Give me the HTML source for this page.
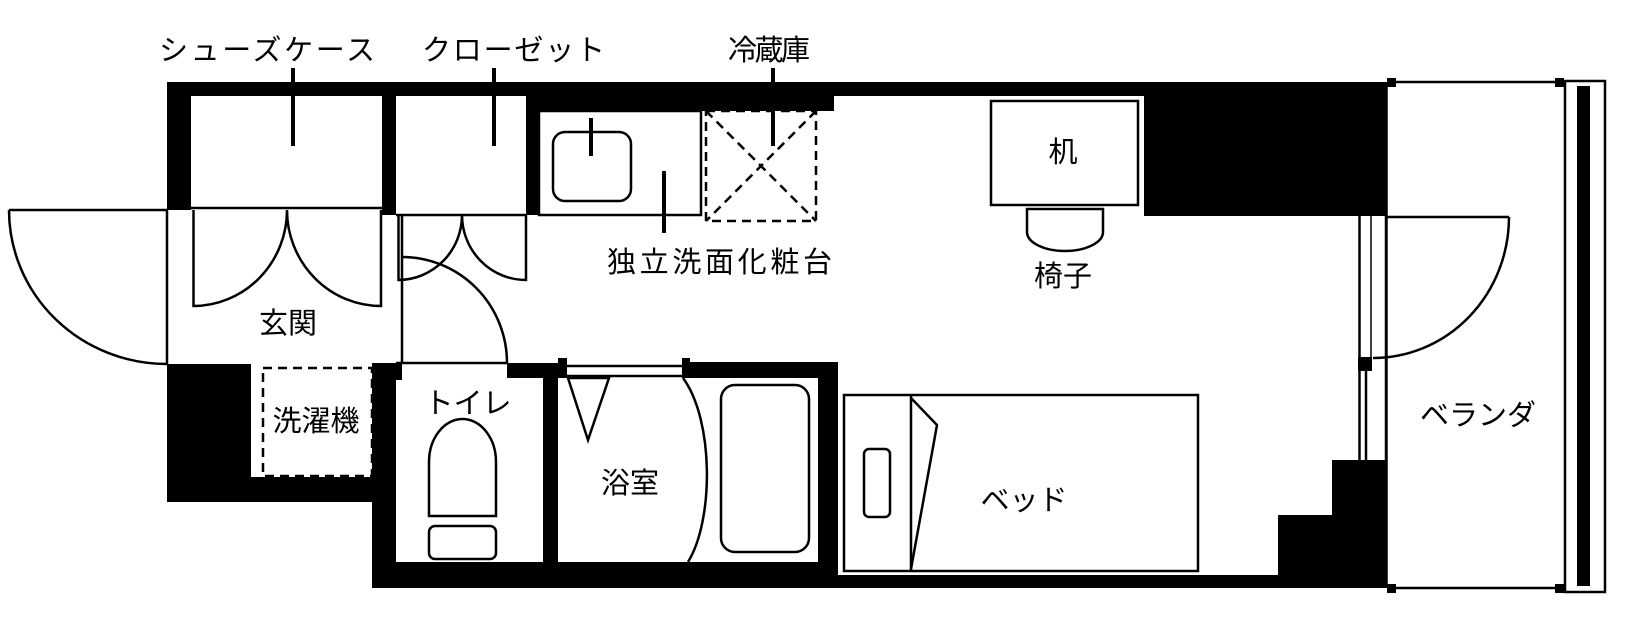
<!DOCTYPE html>
<html><head><meta charset="utf-8"><style>
html,body{margin:0;padding:0;background:#fff;}
svg{display:block;}
text{font-family:"Liberation Sans","Noto Sans CJK JP",sans-serif;font-size:29px;fill:#000;}
</style></head><body>
<svg width="1636" height="624" viewBox="0 0 1636 624" xmlns="http://www.w3.org/2000/svg">
<g fill="#000">
<rect x="167" y="82" width="1220" height="14"/>
<rect x="526" y="96" width="308" height="15"/>
<rect x="818" y="96" width="16" height="12"/>
<rect x="167" y="82" width="24" height="128"/>
<rect x="382" y="96" width="14" height="119"/>
<rect x="526" y="96" width="13" height="119"/>
<rect x="1144" y="82" width="243" height="134"/>
<rect x="167" y="364" width="84" height="138"/>
<rect x="167" y="477" width="215" height="25"/>
<rect x="372" y="363" width="24" height="225"/>
<rect x="396" y="363" width="6" height="17"/>
<rect x="507" y="363" width="52" height="15"/>
<rect x="543" y="363" width="15" height="200"/>
<rect x="558" y="358" width="9" height="20"/>
<rect x="682" y="358" width="8" height="20"/>
<rect x="690" y="362" width="148" height="16"/>
<rect x="818" y="362" width="20" height="213"/>
<rect x="372" y="562" width="466" height="26"/>
<rect x="818" y="575" width="569" height="13"/>
<rect x="1332" y="460" width="55" height="128"/>
<rect x="1278" y="515" width="56" height="73"/>
<rect x="1358" y="357" width="14" height="14"/>
<rect x="1387" y="78" width="9" height="9"/>
<rect x="1387" y="584" width="9" height="9"/>
<rect x="1555" y="78" width="9" height="9"/>
<rect x="1555" y="584" width="9" height="9"/>
<rect x="1577" y="86" width="13" height="500"/>
</g>
<g fill="none" stroke="#000" stroke-width="2.5">
<line x1="191" y1="208" x2="382" y2="208"/>
<line x1="396" y1="215" x2="526" y2="215"/>
<rect x="539" y="111" width="162" height="104"/>
<rect x="553" y="132" width="78" height="69" rx="12"/>
<line x1="167" y1="210" x2="167" y2="364"/>
<line x1="402" y1="215" x2="402" y2="363"/>
<line x1="396" y1="363" x2="507" y2="363"/>
<line x1="9" y1="210" x2="167" y2="210"/>
<path d="M9,210 A158,154 0 0 0 167,364"/>
<path d="M193.5,210 V306 A94,96 0 0 0 287,210 A94,96 0 0 0 381,306 V210"/>
<path d="M398.5,215 V280 A64,65 0 0 0 462,215 A64,65 0 0 0 526,280 V215"/>
<path d="M402,257 A105,106 0 0 1 507,363"/>
<path d="M429,516 V462 A33.5,43 0 0 1 496,462 V516 Z"/>
<rect x="429" y="526" width="67" height="33" rx="6"/>
<line x1="567" y1="366" x2="682" y2="366"/>
<line x1="567" y1="376" x2="682" y2="376"/>
<path d="M568,378 L609,378 L588,440 Z"/>
<path d="M683,378 C714,420 714,520 688,562"/>
<rect x="721" y="385" width="88" height="167" rx="14"/>
<rect x="991" y="101" width="147" height="104"/>
<path d="M1027,209 H1103 V232 A38,19 0 0 1 1027,232 Z"/>
<rect x="844" y="395" width="354" height="176"/>
<line x1="911" y1="395" x2="911" y2="571"/>
<path d="M911,398 L937,425 L911,569"/>
<rect x="864" y="449" width="26" height="68" rx="5"/>
<line x1="1359.5" y1="216" x2="1359.5" y2="460"/>
<line x1="1386" y1="216" x2="1386" y2="460"/>
<line x1="1366" y1="371" x2="1366" y2="460"/>
<line x1="1387" y1="217" x2="1509" y2="217"/>
<path d="M1509,217 A136,141 0 0 1 1373,358"/>
<line x1="1391" y1="82" x2="1559" y2="82"/>
<line x1="1391" y1="588" x2="1559" y2="588"/>
<rect x="1565" y="81" width="40" height="511"/>
</g>
<g stroke="#000" stroke-width="1.5" fill="none">
<line x1="1371" y1="216" x2="1371" y2="357"/>
<line x1="1387" y1="82" x2="1387" y2="588"/>
</g>
<g stroke="#000" stroke-width="2.5" fill="none" stroke-dasharray="9,6">
<rect x="706" y="111" width="110" height="110"/>
<line x1="706" y1="111" x2="816" y2="221"/>
<line x1="816" y1="111" x2="706" y2="221"/>
<rect x="263" y="368" width="109" height="108"/>
</g>
<g stroke="#000" stroke-width="4">
<line x1="293" y1="68" x2="293" y2="146"/>
<line x1="494" y1="68" x2="494" y2="146"/>
<line x1="773" y1="68" x2="773" y2="146"/>
<line x1="591" y1="118" x2="591" y2="156"/>
<line x1="664" y1="171" x2="664" y2="233"/>
</g>
<text x="159" y="60" textLength="216">シューズケース</text>
<text x="422" y="60" textLength="183">クローゼット</text>
<text x="728" y="60" textLength="82">冷蔵庫</text>
<text x="607" y="272" textLength="225">独立洗面化粧台</text>
<text x="288" y="333" text-anchor="middle">玄関</text>
<text x="316" y="431" text-anchor="middle">洗濯機</text>
<text x="468" y="413" text-anchor="middle">トイレ</text>
<text x="630" y="493" text-anchor="middle">浴室</text>
<text x="1063" y="162" text-anchor="middle">机</text>
<text x="1063" y="286" text-anchor="middle">椅子</text>
<text x="1024" y="510" text-anchor="middle">ベッド</text>
<text x="1478" y="425" text-anchor="middle">ベランダ</text>
</svg>
</body></html>
